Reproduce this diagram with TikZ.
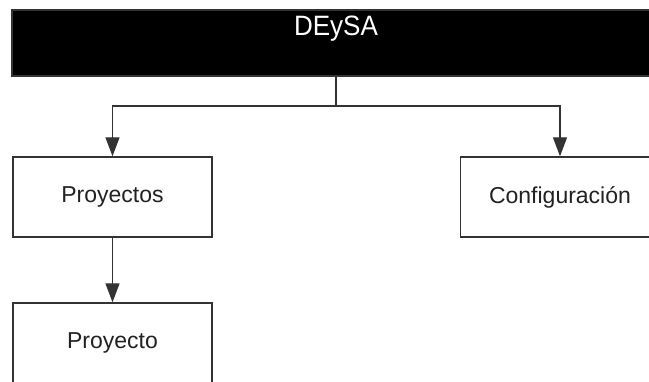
\documentclass[tikz,border=0pt]{standalone}
\usepackage{fontspec}
\setmainfont{Liberation Sans}
\usetikzlibrary{arrows.meta}
\definecolor{linegray}{HTML}{333333}
\definecolor{textgray}{HTML}{222222}
\tikzset{
  menubox/.style={draw=linegray, line width=1.4pt, fill=white, minimum width=199pt,
    minimum height=80pt, inner sep=0pt, text=textgray,
    font=\fontsize{23}{27}\selectfont},
  topbar/.style={draw=linegray, line width=1.4pt, fill=black, minimum width=648pt,
    minimum height=66pt, inner sep=0pt},
  link/.style={draw=linegray, line width=1.4pt},
  arrow/.style={link, -{Triangle[width=14pt,length=19pt]}}
}
\begin{document}
\begin{tikzpicture}[x=1pt, y=-1pt]
    \useasboundingbox (0,0) rectangle (649,382);
    \clip (0,0) rectangle (649,382);

    % Barra superior
    \node[topbar] (deysa) at (336, 43) {};
    \node[anchor=base, text=white, inner sep=0pt, font=\fontsize{28}{32}\selectfont]
        (deysatitle) at (336, 35.5) {\scalebox{0.93}[1]{DEySA}};

    % Menus
    \node[menubox] (proyectos) at (112.5, 197) {Proyectos};
    \node[menubox] (configuracion) at (560, 197) {Configuración};
    \node[menubox] (proyecto) at (112.5, 343) {Proyecto};

    % Conexiones
    \coordinate (split) at (336, 106);
    \draw[link] (deysa.south) -- (split);
    \draw[arrow] (split) -| (proyectos);
    \draw[arrow] (split) -| (configuracion);
    \draw[arrow] (proyectos) -- (proyecto);
\end{tikzpicture}
\end{document}
